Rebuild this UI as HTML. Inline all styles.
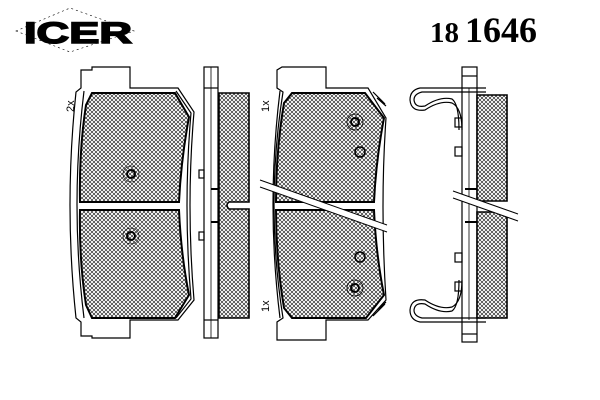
<!DOCTYPE html>
<html><head><style>html,body{margin:0;padding:0;background:#fff}svg{display:block}</style></head><body>
<svg width="600" height="400" viewBox="0 0 600 400" xmlns="http://www.w3.org/2000/svg" font-family="Liberation Serif, serif">
<defs>
<pattern id="h" width="4" height="4" patternUnits="userSpaceOnUse">
<rect width="4" height="4" fill="#fff"/>
<path d="M0,0L4,4M4,0L0,4" stroke="#000" stroke-width="0.55"/>
</pattern>
</defs>
<!-- logo -->
<polygon points="16,31 70,8 134,31 70,52" fill="none" stroke="#000" stroke-width="0.6" stroke-dasharray="2,3"/>
<text x="24" y="43" font-family="Liberation Sans, sans-serif" font-weight="bold" font-size="30" textLength="108" lengthAdjust="spacingAndGlyphs" stroke="#000" stroke-width="1.5">ICER</text>
<text x="430" y="42" font-size="29" font-weight="bold">18</text>
<text x="465" y="42" font-size="36" font-weight="bold">1646</text>

<g fill="none" stroke="#000" stroke-width="1.2">
<path d="M81,88 L81,70 L92,70 L92,67 L130,67 L130,88 L178,88 L194,112 Q186,205 194,300 L178,320 L130,320 L130,338 L92,338 L92,336 L81,336 L81,322 L76,318 Q64,205 76,92 Z"/>
<path d="M84,91 Q70,205 84,318" />
<path d="M176,91 L191,113 Q183,205 191,299 L176,318"/>
</g>
<path d="M92,93 L175,93 L189,117 Q181,160 179,202 L80,202 Q79,150 86,105 Z M80,210 L179,210 Q181,255 189,295 L175,318 L92,318 L86,305 Q79,260 80,210 Z" fill="url(#h)" stroke="#000" stroke-width="2"/>
<g fill="none" stroke="#000">
<circle cx="131" cy="174" r="4" stroke-width="2"/><circle cx="131" cy="174" r="8" stroke-width="0.6"/>
<circle cx="131" cy="236" r="4" stroke-width="2"/><circle cx="131" cy="236" r="8" stroke-width="0.6"/>
</g>
<text transform="translate(74,112) rotate(-90)" font-family="Liberation Sans, sans-serif" font-size="11">2x</text>

<g stroke="#000" fill="none" stroke-width="1.2">
<rect x="204" y="67" width="14" height="271"/>
<line x1="211" y1="67" x2="211" y2="338" stroke-width="0.8"/>
<line x1="204" y1="88" x2="218" y2="88"/><line x1="204" y1="320" x2="218" y2="320"/>
<rect x="199" y="170" width="5" height="8"/><rect x="199" y="232" width="5" height="8"/>
<line x1="211" y1="189" x2="218" y2="189" stroke-width="2"/><line x1="211" y1="222" x2="218" y2="222" stroke-width="2"/>
</g>
<path d="M219,93 L249,93 L249,202 L229,202 Q225,205 229,209 L249,209 L249,318 L219,318 Z" fill="url(#h)" stroke="#000" stroke-width="1.6"/>

<g fill="none" stroke="#000" stroke-width="1.2">
<path d="M277,88 L277,70 L282,67 L326,67 L326,88 L368,88 L386,118 Q380,205 386,300 L368,320 L326,320 L326,340 L277,340 L277,322 L283,318 Q265,205 283,92 Z"/>
<path d="M280,91 Q266,205 280,318"/>
<path d="M373,92 L385,104 M377,98 L386,106" />
<path d="M373,316 L385,304 M377,310 L386,302" />
</g>
<path d="M292,93 L365,93 L384,118 Q376,160 374,202 L276,202 Q276,150 284,103 Z M276,210 L374,210 Q376,255 384,295 L366,318 L292,318 L284,308 Q276,260 276,210 Z" fill="url(#h)" stroke="#000" stroke-width="2"/>
<g fill="none" stroke="#000">
<circle cx="355" cy="122" r="4" stroke-width="2"/><circle cx="355" cy="122" r="8" stroke-width="0.8"/>
<circle cx="360" cy="152" r="5" stroke-width="1.5"/>
<circle cx="360" cy="257" r="5" stroke-width="1.5"/>
<circle cx="355" cy="288" r="4" stroke-width="2"/><circle cx="355" cy="288" r="8" stroke-width="0.8"/>
</g>
<polygon points="260,180 387,225 387,232 260,187" fill="#fff"/>
<g stroke="#000" stroke-width="1"><line x1="260" y1="180" x2="387" y2="225"/><line x1="260" y1="187" x2="387" y2="232"/></g>
<text transform="translate(269,112) rotate(-90)" font-family="Liberation Sans, sans-serif" font-size="11">1x</text>
<text transform="translate(269,312) rotate(-90)" font-family="Liberation Sans, sans-serif" font-size="11">1x</text>

<g stroke="#000" fill="none" stroke-width="1.2">
<rect x="462" y="67" width="15" height="275"/>
<line x1="469" y1="88" x2="469" y2="320" stroke-width="0.8"/>
<line x1="462" y1="76" x2="477" y2="76"/><line x1="462" y1="334" x2="477" y2="334"/>
<rect x="455" y="118" width="7" height="9"/><rect x="455" y="147" width="7" height="9"/>
<rect x="455" y="253" width="7" height="9"/><rect x="455" y="282" width="7" height="9"/>
<line x1="465" y1="189" x2="477" y2="189" stroke-width="2"/><line x1="465" y1="222" x2="477" y2="222" stroke-width="2"/>
<path d="M486,88 L420,88 Q410,90 410,100 Q411,112 425,110 Q440,100 452,103 Q462,108 462,130"/>
<path d="M486,92 L422,92 Q414,94 414,100 Q415,108 425,106 Q440,96 452,99 Q459,104 459,130"/>
<path d="M486,322 L420,322 Q410,320 410,310 Q411,298 425,300 Q440,310 452,307 Q462,302 462,280"/>
<path d="M486,318 L422,318 Q414,316 414,310 Q415,302 425,304 Q440,314 452,311 Q459,306 459,280"/>
</g>
<path d="M477,95 L507,95 L507,201 L477,201 Z M477,212 L507,212 L507,318 L477,318 Z" fill="url(#h)" stroke="#000" stroke-width="1.6"/>
<polygon points="453,191 518,214 518,221 453,198" fill="#fff"/>
<g stroke="#000" stroke-width="1"><line x1="453" y1="191" x2="518" y2="214"/><line x1="453" y1="198" x2="518" y2="221"/></g>
</svg>
</body></html>
